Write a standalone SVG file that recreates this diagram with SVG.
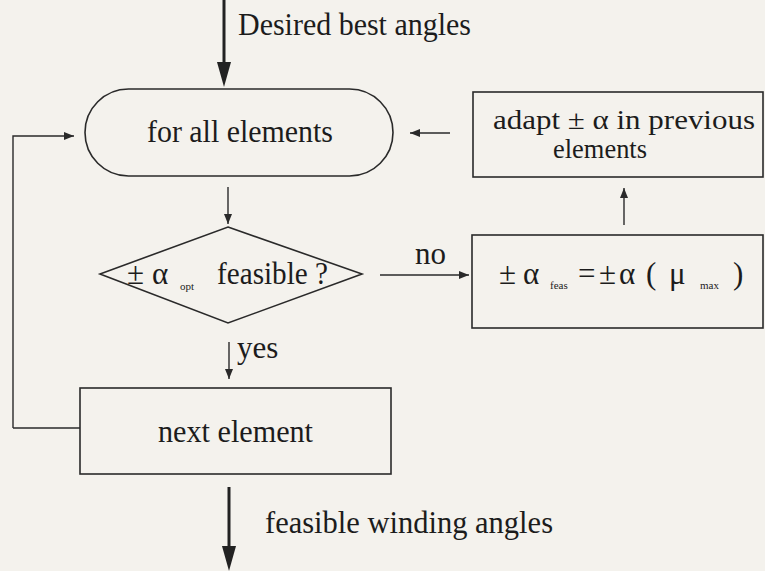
<svg xmlns="http://www.w3.org/2000/svg" width="765" height="571" viewBox="0 0 765 571">
<style>
.t{font-family:"Liberation Serif","Times New Roman",serif;font-size:31px;fill:#1c1c1c}
.a{font-family:"Liberation Serif","Times New Roman",serif;font-size:28px;fill:#1c1c1c}
.s{font-family:"Liberation Serif","Times New Roman",serif;font-size:11px;fill:#1c1c1c}
.n{fill:none;stroke:#2a2a2a;stroke-width:1.6}
.c{fill:none;stroke:#2a2a2a;stroke-width:1.4}
.b{fill:none;stroke:#222;stroke-width:3}
</style>
<defs>
<marker id="ah" markerUnits="userSpaceOnUse" markerWidth="12" markerHeight="10" refX="10" refY="4" orient="auto">
<path d="M0,0 L10,4 L0,8 Z" fill="#2a2a2a"/>
</marker>
</defs>
<rect x="0" y="0" width="765" height="571" fill="#f4f2ed"/>
<g id="connectors">
<line class="b" x1="224" y1="0" x2="224" y2="66"/>
<polygon points="217,62 231,62 224,87" fill="#222"/>
<polyline class="c" points="13,428 13,136 74,136" marker-end="url(#ah)"/>
<line class="c" x1="80" y1="428" x2="13" y2="428"/>
<line class="c" x1="450" y1="133" x2="410" y2="133" marker-end="url(#ah)"/>
<line class="c" x1="624" y1="225" x2="624" y2="188" marker-end="url(#ah)"/>
<line class="c" x1="228" y1="187" x2="228" y2="224" marker-end="url(#ah)"/>
<line class="c" x1="380" y1="275" x2="469" y2="275" marker-end="url(#ah)"/>
<line class="c" x1="229" y1="342" x2="229" y2="379" marker-end="url(#ah)"/>
<line class="b" x1="229" y1="487" x2="229" y2="550"/>
<polygon points="222,546 236,546 229,571" fill="#222"/>
<text class="t" x="238" y="35" textLength="233" lengthAdjust="spacingAndGlyphs">Desired best angles</text>
<text class="t" x="415" y="264">no</text>
<text class="t" x="237" y="358">yes</text>
<text class="t" x="265" y="533" textLength="288" lengthAdjust="spacingAndGlyphs">feasible winding angles</text>
</g>
<g id="forall">
<rect class="n" x="85" y="89" width="308" height="87" rx="43.5"/>
<text class="t" x="147" y="142" textLength="186" lengthAdjust="spacingAndGlyphs">for all elements</text>
</g>
<g id="adapt">
<rect class="n" x="473" y="92" width="290" height="85"/>
<text class="a" x="493" y="129" textLength="262" lengthAdjust="spacingAndGlyphs">adapt ± α  in previous</text>
<text class="a" x="553" y="158" textLength="94" lengthAdjust="spacingAndGlyphs">elements</text>
</g>
<g id="decision">
<polygon class="n" points="228,227 362,274 228,323 100,274"/>
<text class="t" x="127" y="284">±</text>
<text class="t" x="152" y="284">α</text>
<text class="s" x="180" y="290">opt</text>
<text class="t" x="217" y="284" textLength="111" lengthAdjust="spacingAndGlyphs">feasible ?</text>
</g>
<g id="feas">
<rect class="n" x="472" y="235" width="291" height="93"/>
<text class="t" x="499" y="284">±</text>
<text class="t" x="523" y="284">α</text>
<text class="s" x="550" y="289">feas</text>
<text class="t" x="578" y="284">=</text>
<text class="t" x="599" y="284">±</text>
<text class="t" x="619" y="284">α</text>
<text class="t" x="646" y="284">(</text>
<text class="t" x="669" y="284">μ</text>
<text class="s" x="700" y="289">max</text>
<text class="t" x="733" y="284">)</text>
</g>
<g id="next">
<rect class="n" x="80" y="388" width="311" height="86"/>
<text class="t" x="158" y="442" textLength="155" lengthAdjust="spacingAndGlyphs">next element</text>
</g>
</svg>
